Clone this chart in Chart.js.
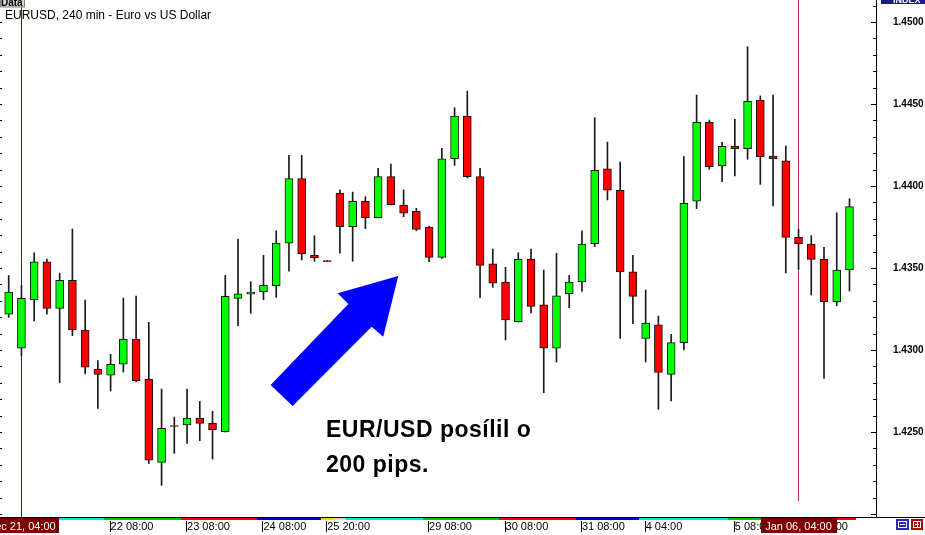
<!DOCTYPE html>
<html lang="en">
<head>
<meta charset="UTF-8">
<title>EURUSD, 240 min - Euro vs US Dollar</title>
<style>
  body { margin: 0; padding: 0; background: #fff; }
  #wrap { width: 925px; height: 535px; }
</style>
</head>
<body>
<div id="wrap"><canvas id="fxChart" width="925" height="535"></canvas></div>
<script src="https://cdn.jsdelivr.net/npm/chart.js"></script>
<script>
// EURUSD 4h candles (one entry per bar, left to right)
const openPrices = [
  1.43218, 1.43012, 1.43305, 1.43537, 1.43254, 1.43425, 1.43122, 1.42884, 1.42846, 1.42913,
  1.43067, 1.42821, 1.42315, 1.42540, 1.42543, 1.42585, 1.42553, 1.42502, 1.43315, 1.43341,
  1.43354, 1.43392, 1.43652, 1.44045, 1.43577, 1.43545, 1.43957, 1.43752, 1.43907, 1.43807,
  1.44057, 1.43884, 1.43846, 1.43748, 1.43565, 1.44166, 1.44427, 1.44057, 1.43526, 1.43415,
  1.43173, 1.43553, 1.43276, 1.43012, 1.43343, 1.43415, 1.43648, 1.44105, 1.43974, 1.43476,
  1.43071, 1.43154, 1.42852, 1.43045, 1.43907, 1.44388, 1.44122, 1.44244, 1.44227, 1.44524,
  1.44183, 1.44154, 1.43687, 1.43646, 1.43553, 1.43295, 1.43488
];
const highPrices = [
  1.43455, 1.43394, 1.43593, 1.43555, 1.43468, 1.43738, 1.43305, 1.42935, 1.42974, 1.43317,
  1.43329, 1.43169, 1.42762, 1.42591, 1.42762, 1.42687, 1.42626, 1.43455, 1.43677, 1.43416,
  1.43577, 1.43727, 1.44187, 1.44187, 1.43697, 1.43546, 1.43976, 1.43963, 1.43935, 1.44108,
  1.44134, 1.43976, 1.43864, 1.43756, 1.44230, 1.44477, 1.44579, 1.44108, 1.43616, 1.43504,
  1.43593, 1.43616, 1.43488, 1.43590, 1.43455, 1.43726, 1.44416, 1.44268, 1.44146, 1.43577,
  1.43366, 1.43207, 1.43096, 1.44179, 1.44555, 1.44402, 1.44266, 1.44407, 1.44849, 1.44549,
  1.44555, 1.44244, 1.43736, 1.43697, 1.43626, 1.43837, 1.43923
];
const lowPrices = [
  1.43199, 1.42965, 1.43177, 1.43218, 1.42801, 1.43087, 1.42855, 1.42644, 1.42750, 1.42866,
  1.42805, 1.42309, 1.42175, 1.42370, 1.42431, 1.42447, 1.42335, 1.42500, 1.43148, 1.43224,
  1.43307, 1.43321, 1.43480, 1.43549, 1.43541, 1.43538, 1.43590, 1.43541, 1.43740, 1.43805,
  1.43884, 1.43813, 1.43727, 1.43538, 1.43559, 1.44126, 1.44049, 1.43319, 1.43382, 1.43061,
  1.43171, 1.43226, 1.42740, 1.42927, 1.43258, 1.43358, 1.43630, 1.43915, 1.43071, 1.43160,
  1.42927, 1.42638, 1.42689, 1.43000, 1.43862, 1.44102, 1.44026, 1.44061, 1.44163, 1.44010,
  1.43878, 1.43470, 1.43492, 1.43335, 1.42827, 1.43270, 1.43360
];
const closePrices = [
  1.43354, 1.43315, 1.43537, 1.43254, 1.43425, 1.43122, 1.42896, 1.42852, 1.42913, 1.43067,
  1.42813, 1.42329, 1.42523, 1.42534, 1.42585, 1.42553, 1.42514, 1.43327, 1.43343, 1.43354,
  1.43394, 1.43652, 1.44045, 1.43587, 1.43563, 1.43539, 1.43752, 1.43907, 1.43807, 1.44057,
  1.43886, 1.43835, 1.43735, 1.43565, 1.44166, 1.44427, 1.44057, 1.43516, 1.43407, 1.43183,
  1.43553, 1.43266, 1.43012, 1.43331, 1.43415, 1.43646, 1.44096, 1.43974, 1.43476, 1.43327,
  1.43165, 1.42864, 1.43045, 1.43895, 1.44388, 1.44118, 1.44242, 1.44227, 1.44516, 1.44179,
  1.44166, 1.43687, 1.43648, 1.43553, 1.43295, 1.43488, 1.43874
];

// axis labels
const priceTicks = ['1.4250', '1.4300', '1.4350', '1.4400', '1.4450', '1.4500'];
const timeTickIdx = [8, 14, 20, 25, 33, 39, 45, 50, 57, 63];
const timeTicks = ['22 08:00', '23 08:00', '24 08:00', '25 20:00', '29 08:00', '30 08:00',
                   '31 08:00', '4 04:00', '5 08:00', '6 08:00'];
// the two cursor lines and their date boxes
const cursorIdx = [1, 62];
const cursorLabels = ['Dec 21, 04:00', 'Jan 06, 04:00'];
// day separator strip under the chart (bar index where each day starts)
const dayStart = [-1, 8, 14, 20, 25, 26, 27, 33, 39, 45, 50, 57, 63, 67];
const dayColor = ['#00e8e8', '#00c800', '#ff0000', '#0000c8', '#ffd800', '#d8d8d8', '#00e8e8',
                  '#00c800', '#ff0000', '#0000c8', '#00e8e8', '#00c800', '#ff0000'];

// blue arrow and note, in bar index / price units
const arrowIdx = [20.56, 26.66, 25.82, 30.58, 29.40, 28.49, 22.29];
const arrowPrice = [1.42787, 1.43280, 1.43346, 1.43451, 1.43081, 1.43142, 1.42659];
const noteLines = ['EUR/USD posílil o', '200 pips.'];
const noteIdx = 24.91;
const notePrice = [1.42470, 1.42256];

const xMin = -0.683, xMax = 68.16;
const yMin = 1.41982, yMax = 1.45134;

const bars = openPrices.map((o, i) => i);
const bodyColors = bars.map(i => closePrices[i] >= openPrices[i] ? '#00ff00' : '#ff0000');

const decor = {
  id: 'decor',
  beforeDatasetsDraw(chart) {
    const { ctx, scales: { x } } = chart;
    ctx.save();
    ctx.lineWidth = 1;
    ctx.strokeStyle = '#7a0c0c';
    let px = Math.floor(x.getPixelForValue(cursorIdx[0])) + 0.5;
    ctx.beginPath(); ctx.moveTo(px, 0); ctx.lineTo(px, 517); ctx.stroke();
    ctx.strokeStyle = '#b03a3a';
    px = Math.floor(x.getPixelForValue(cursorIdx[1])) + 0.5;
    ctx.beginPath(); ctx.moveTo(px, 0); ctx.lineTo(px, 501); ctx.stroke();
    ctx.restore();
  },
  afterDatasetsDraw(chart) {
    const { ctx, scales: { x, y } } = chart;
    ctx.save();
    ctx.fillStyle = '#0000ff';
    ctx.beginPath();
    arrowIdx.forEach((v, i) => {
      const px = x.getPixelForValue(v), py = y.getPixelForValue(arrowPrice[i]);
      if (i === 0) ctx.moveTo(px, py); else ctx.lineTo(px, py);
    });
    ctx.closePath();
    ctx.fill();

    ctx.fillStyle = '#000';
    ctx.font = 'bold 23px "Liberation Sans", Arial, sans-serif';
    ctx.letterSpacing = '0.5px';
    ctx.textBaseline = 'alphabetic';
    noteLines.forEach((t, i) => {
      ctx.fillText(t, x.getPixelForValue(noteIdx), y.getPixelForValue(notePrice[i]));
    });
    ctx.letterSpacing = '0px';
    ctx.restore();
  },
  afterDraw(chart) {
    const { ctx, scales: { x, y }, chartArea } = chart;
    const right = Math.round(chartArea.right);
    ctx.save();

    // frame
    ctx.fillStyle = '#000';
    ctx.fillRect(right - 1, 0, 1, 518);
    ctx.fillRect(0, 517, 925, 1);

    // price ticks: both edges, one per 0.001
    for (let v = 1.420; v <= 1.451; v += 0.001) {
      const py = Math.round(y.getPixelForValue(v));
      const major = Math.abs(v * 200 - Math.round(v * 200)) < 1e-6;
      ctx.fillRect(right - (major ? 6 : 4), py, major ? 5 : 3, 1);
      ctx.fillRect(0, py, 2, 1);
    }

    // day strip
    for (let i = 0; i < dayColor.length; i++) {
      const x0 = Math.max(0, x.getPixelForValue(dayStart[i] - 0.5));
      const x1 = x.getPixelForValue(dayStart[i + 1] - 0.5);
      ctx.fillStyle = dayColor[i];
      ctx.fillRect(Math.round(x0), 518, Math.round(x1) - Math.round(x0), 2);
    }

    // time tick marks
    ctx.fillStyle = '#000';
    timeTickIdx.forEach(v => {
      const px = Math.round(x.getPixelForValue(v)) - 1;
      ctx.fillRect(px, 521, 1, 11);
    });

    // cursor date boxes
    ctx.font = '11px "Liberation Sans", Arial, sans-serif';
    ctx.textAlign = 'center';
    ctx.textBaseline = 'alphabetic';
    cursorIdx.forEach((v, i) => {
      const cx = x.getPixelForValue(v);
      ctx.fillStyle = '#7a0000';
      ctx.fillRect(Math.round(cx - 38), 518, 76, 15);
      ctx.fillStyle = '#fff';
      ctx.fillText(cursorLabels[i], cx, 530);
    });

    // title
    ctx.textAlign = 'left';
    ctx.fillStyle = '#000';
    ctx.font = '12px "Liberation Sans", Arial, sans-serif';
    ctx.fillText('EURUSD, 240 min - Euro vs US Dollar', 5, 19);

    // "Data" tab
    ctx.fillStyle = '#d6d3ce';
    ctx.fillRect(0, 0, 25, 7);
    ctx.strokeStyle = '#808080';
    ctx.strokeRect(0.5, -1, 24, 8);
    ctx.fillStyle = '#000';
    ctx.font = 'bold 10px "Liberation Sans", Arial, sans-serif';
    ctx.fillText('Data', 1, 6);

    // "INDEX" tab
    ctx.fillStyle = '#1a1a8c';
    ctx.fillRect(881, 0, 44, 4);
    ctx.fillStyle = '#fff';
    ctx.font = 'bold 9px "Liberation Sans", Arial, sans-serif';
    ctx.fillText('INDEX', 893, 3);

    // scroll buttons
    ctx.fillStyle = '#2a2ab0';
    ctx.fillRect(896, 519, 13, 11);
    ctx.fillStyle = '#b00000';
    ctx.fillRect(911, 519, 12, 11);
    ctx.strokeStyle = '#fff';
    ctx.strokeRect(898.5, 521.5, 8, 6);
    ctx.strokeRect(913.5, 521.5, 7, 6);
    ctx.fillStyle = '#fff';
    ctx.fillRect(900, 524, 5, 1);
    ctx.fillRect(915, 524, 4, 1);
    ctx.fillRect(917, 522, 1, 5);
    ctx.restore();
  }
};

new Chart(document.getElementById('fxChart'), {
  type: 'bar',
  data: {
    datasets: [
      {
        label: 'range',
        data: bars.map(i => ({ x: i, y: [lowPrices[i], highPrices[i]] })),
        backgroundColor: '#1a1a1a',
        barThickness: 1,
        grouped: false,
        order: 2
      },
      {
        label: 'EURUSD',
        data: bars.map(i => ({ x: i, y: [openPrices[i], closePrices[i]] })),
        backgroundColor: bodyColors,
        borderColor: '#111',
        borderWidth: 1,
        borderSkipped: false,
        barThickness: 8,
        minBarLength: 1,
        grouped: false,
        order: 1
      }
    ]
  },
  options: {
    responsive: false,
    animation: false,
    layout: { padding: 0, autoPadding: false },
    plugins: { legend: { display: false }, tooltip: { enabled: false } },
    scales: {
      x: {
        type: 'linear',
        min: xMin,
        max: xMax,
        offset: false,
        grid: { display: false, drawTicks: false },
        border: { display: false },
        afterFit: s => { s.height = 18; s.paddingLeft = 0; s.paddingRight = 0; },
        afterBuildTicks: s => { s.ticks = timeTickIdx.map(v => ({ value: v })); },
        ticks: {
          autoSkip: false,
          maxRotation: 0,
          align: 'start',
          padding: 3,
          color: '#000',
          font: { family: '"Liberation Sans", Arial, sans-serif', size: 11 },
          callback: (v, i) => timeTicks[i]
        }
      },
      y: {
        position: 'right',
        min: yMin,
        max: yMax,
        grid: { display: false, drawTicks: false },
        border: { display: false },
        afterFit: s => { s.width = 48; s.paddingTop = 0; s.paddingBottom = 0; },
        afterBuildTicks: s => { s.ticks = priceTicks.map(t => ({ value: parseFloat(t) })); },
        ticks: {
          padding: 16,
          color: '#000',
          font: { family: '"Liberation Sans", Arial, sans-serif', size: 10, weight: 'bold' },
          callback: (v, i) => priceTicks[i]
        }
      }
    }
  },
  plugins: [decor]
});
</script>
</body>
</html>
